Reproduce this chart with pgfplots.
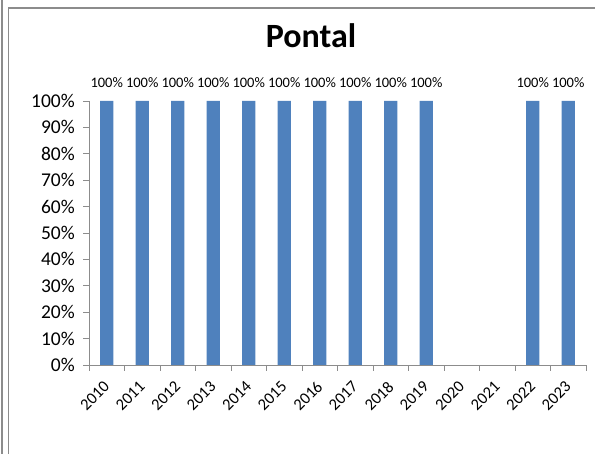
\documentclass[border=0pt]{standalone}
\usepackage{pgfplots}
\pgfplotsset{compat=1.18}
\usepackage{fontspec}
\setmainfont{Carlito}
\definecolor{barblue}{HTML}{4F81BD}
\definecolor{framegray}{HTML}{8C8C8C}
\begin{document}
\begin{tikzpicture}
\useasboundingbox (0pt,0pt) rectangle (595pt,454pt);
\draw[framegray,line width=1.2pt] (2pt,0pt) -- (2pt,454pt);
\draw[framegray,line width=1.2pt] (8.5pt,0pt) -- (8.5pt,446pt) -- (595pt,446pt);
\begin{axis}[
  at={(89pt,89pt)}, anchor=south west,
  scale only axis, width=497pt, height=264pt,
  xmin=-0.5, xmax=13.5, ymin=0, ymax=100,
  axis x line*=bottom, axis y line*=left,
  axis line style={framegray, line width=0.9pt},
  tick style={framegray, line width=0.9pt},
  tick align=outside,
  xtick={0,...,13},
  xticklabels={2010,2011,2012,2013,2014,2015,2016,2017,2018,2019,2020,2021,2022,2023},
  major x tick style={draw=none},
  minor xtick={-0.5,0.5,...,13.5},
  minor tick length=6pt,
  major tick length=6pt,
  ytick={0,10,...,100},
  yticklabel={\pgfmathprintnumber{\tick}\%},
  /pgf/number format/assume math mode=true,
  yticklabel style={font=\fontsize{19.5}{22}\selectfont, inner sep=2pt, xshift=-6pt},
  xticklabel style={font=\fontsize{16.5}{18}\selectfont, xshift=-4pt, yshift=-9pt, rotate=45, anchor=north east, inner sep=0pt},
  ybar, bar width=13.3pt,
  nodes near coords={\pgfmathprintnumber{\pgfplotspointmeta}\%},
  nodes near coords style={font=\fontsize{14.5}{16}\selectfont, black, yshift=10pt},
  clip=false,
]
\addplot[fill=barblue, draw=none] coordinates {
 (0,100) (1,100) (2,100) (3,100) (4,100) (5,100) (6,100) (7,100) (8,100) (9,100) (12,100) (13,100)
};
\end{axis}
\node[font=\bfseries\fontsize{34}{40}\selectfont] at (311pt,418pt) {Pontal};
\end{tikzpicture}
\end{document}
